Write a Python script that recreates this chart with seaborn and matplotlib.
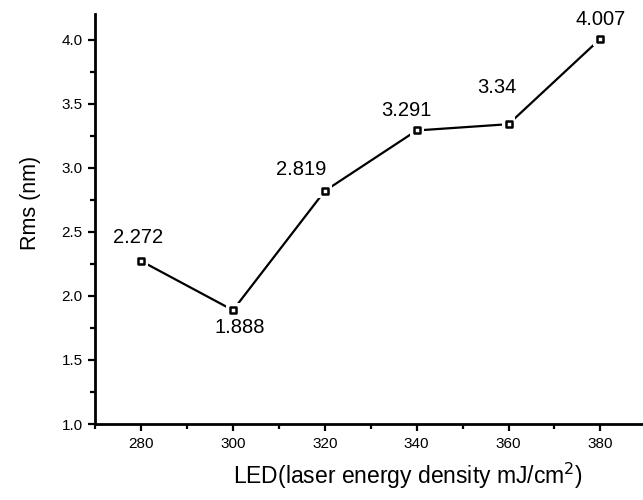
import matplotlib
matplotlib.use("Agg")
import matplotlib.pyplot as plt
import seaborn as sns
import pandas as pd
from matplotlib.ticker import MultipleLocator

# Data
led = [280, 300, 320, 340, 360, 380]
rms = [2.272, 1.888, 2.819, 3.291, 3.34, 4.007]
labels = ["2.272", "1.888", "2.819", "3.291", "3.34", "4.007"]
# label offsets in pixels relative to each point
label_dx = [-3, 7, -24, -10, -12, 0]
label_dy = [24, -17, 21, 20, 37, 19]

df = pd.DataFrame({"led": led, "rms": rms})

sns.set_style("ticks")
plt.rcParams['font.family'] = ['Liberation Sans', 'DejaVu Sans']
plt.rcParams['text.color'] = 'black'
plt.rcParams['axes.labelcolor'] = 'black'
plt.rcParams['xtick.color'] = 'black'
plt.rcParams['ytick.color'] = 'black'

fig = plt.figure(figsize=(6.43, 5), dpi=100)
ax = fig.add_axes([0.148, 0.152, 0.85, 0.82])

sns.lineplot(data=df, x="led", y="rms", color="black", linewidth=1.6, ax=ax, zorder=2)
# white halo so the line stops short of the markers
sns.scatterplot(data=df, x="led", y="rms", marker="s", s=100, color="white",
                edgecolor="none", ax=ax, zorder=3)
sns.scatterplot(data=df, x="led", y="rms", marker="s", s=22, color="white",
                edgecolor="black", linewidth=1.8, ax=ax, zorder=4)

for x, y, t, dx, dy in zip(led, rms, labels, label_dx, label_dy):
    ax.annotate(t, (x, y), xytext=(dx, dy), textcoords="offset pixels",
                ha="center", va="center", fontsize=14.5, color="black")

ax.set_xlim(270, 389)
ax.set_ylim(1.0, 4.2)
ax.xaxis.set_major_locator(MultipleLocator(20))
ax.xaxis.set_minor_locator(MultipleLocator(10))
ax.yaxis.set_major_locator(MultipleLocator(0.5))
ax.yaxis.set_minor_locator(MultipleLocator(0.25))
ax.yaxis.set_major_formatter(matplotlib.ticker.FormatStrFormatter("%.1f"))

ax.tick_params(which="major", direction="out", length=5, width=1.6, labelsize=11, pad=4)
ax.tick_params(which="minor", direction="out", length=3.5, width=1.6)

for s in ["left", "bottom"]:
    ax.spines[s].set_linewidth(2)
    ax.spines[s].set_color("black")
sns.despine(ax=ax)

ax.set_xlabel("LED(laser energy density mJ/cm$^{2}$)", fontsize=16.5, va="center")
ax.set_ylabel("Rms (nm)", fontsize=15.5, va="center")
ax.xaxis.set_label_coords(0.572, -0.127)
ax.yaxis.set_label_coords(-0.119, 0.539)

fig.savefig("out.png", dpi=100)
